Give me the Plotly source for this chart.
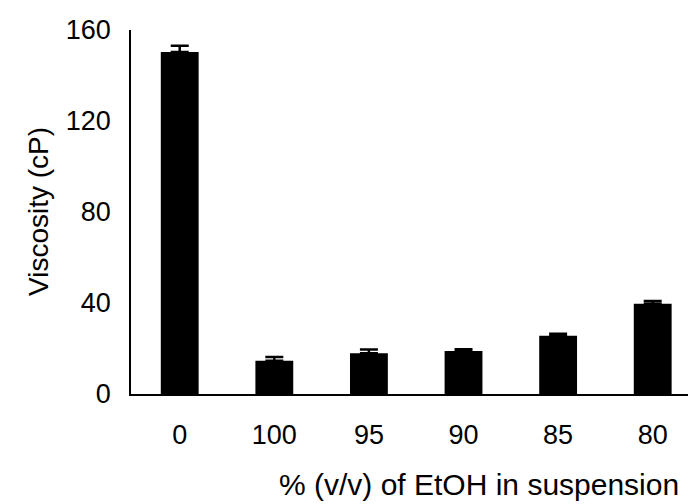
import plotly.graph_objects as go

categories = ["0", "100", "95", "90", "85", "80"]
viscosity = [150.3, 14.6, 17.9, 18.9, 25.6, 39.7]
errors = [2.8, 1.7, 1.7, 0.8, 0.9, 1.2]
y_ticks = [0, 40, 80, 120, 160]

FONT = "Liberation Sans, Arial, Helvetica, sans-serif"

fig = go.Figure()
fig.add_trace(go.Bar(
    x=list(range(len(categories))),
    y=viscosity,
    width=0.40,
    marker=dict(color="black", line=dict(width=0)),
    error_y=dict(type="data", array=errors, arrayminus=[0] * len(errors),
                 symmetric=False, color="black", thickness=2.5, width=9),
))

fig.update_layout(
    width=689, height=504,
    margin=dict(l=131, r=1, t=30, b=110),
    plot_bgcolor="white", paper_bgcolor="white",
    showlegend=False,
    font=dict(family=FONT, color="black", size=27),
    xaxis=dict(
        range=[-0.515, 5.373],
        tickvals=list(range(len(categories))),
        ticktext=categories,
        showline=True, linecolor="black", linewidth=1.5,
        showgrid=False, zeroline=False,
        ticks="", ticklabelstandoff=16,
        tickfont=dict(family=FONT, size=27, color="black"),
    ),
    yaxis=dict(
        range=[0, 160],
        tickvals=y_ticks,
        showline=True, linecolor="black", linewidth=1.5,
        showgrid=False, zeroline=False,
        ticks="", ticklabelstandoff=13,
        tickfont=dict(family=FONT, size=27, color="black"),
    ),
    annotations=[
        dict(text="% (v/v) of EtOH in suspension", x=479, y=504 - 484,
             xref="paper", yref="paper", showarrow=False,
             font=dict(family=FONT, size=30, color="black"),
             xanchor="center", yanchor="middle"),
        dict(text="Viscosity (cP)", x=38, y=504 - 212,
             xref="paper", yref="paper", showarrow=False, textangle=-90,
             font=dict(family=FONT, size=28, color="black"),
             xanchor="center", yanchor="middle"),
    ],
)

# convert pixel positions of annotations to paper coordinates
pw = 689 - 131 - 1
ph = 504 - 30 - 110
for a in fig.layout.annotations:
    a.x = (a.x - 131) / pw
    a.y = (a.y - 110) / ph

fig.write_html("out.html")
